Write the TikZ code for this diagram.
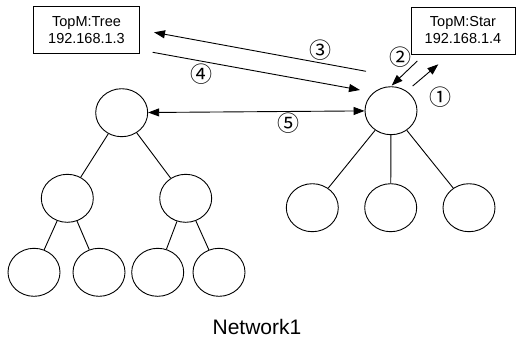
\documentclass[tikz,border=0pt]{standalone}
\usepackage{fontspec}
\setmainfont{Liberation Sans}
\newfontfamily\symfont{Noto Sans CJK JP}
\usetikzlibrary{shapes.geometric,arrows.meta}
\begin{document}
\begin{tikzpicture}[x=1pt,y=-1pt,
  host/.style={ellipse,draw,line width=0.9pt,minimum width=52pt,minimum height=48pt,inner sep=0pt},
  infobox/.style={draw,line width=0.9pt,minimum width=106pt,minimum height=47pt,inner sep=0pt,align=center,font=\fontsize{14.5}{17}\selectfont},
  edge/.style={line width=0.9pt},
  msg/.style={line width=0.9pt,-{Triangle[length=11pt,width=8pt]}},
  num/.style={font=\symfont\fontsize{22}{22}\selectfont,inner sep=0pt}]
\useasboundingbox (0,0) rectangle (516,338);
% info boxes
\node[infobox] (tbox) at (86.5,30) {TopM:Tree\\192.168.1.3};
\node[infobox,minimum width=104pt] (sbox) at (463,30.5) {TopM:Star\\192.168.1.4};
% tree network
\node[host] (troot) at (121.7,112.7) {};
\node[host] (tl) at (67.3,198.3) {};
\node[host] (tr) at (185.7,198.3) {};
\node[host] (tl1) at (34,272.3) {};
\node[host] (tl2) at (99,272.3) {};
\node[host] (tr1) at (157.7,272.3) {};
\node[host] (tr2) at (219,272.3) {};
\draw[edge] (troot) -- (tl);
\draw[edge] (troot) -- (tr);
\draw[edge] (tl) -- (tl1);
\draw[edge] (tl) -- (tl2);
\draw[edge] (tr) -- (tr1);
\draw[edge] (tr) -- (tr2);
% star network
\node[host] (sroot) at (391,110.7) {};
\node[host] (s1) at (312.3,207.7) {};
\node[host] (s2) at (390.7,207.7) {};
\node[host] (s3) at (469,207.7) {};
\draw[edge] (sroot) -- (s1);
\draw[edge] (sroot) -- (s2);
\draw[edge] (sroot) -- (s3);
% messages
\coordinate (a3s) at (366,71.3);
\coordinate (a3e) at (154,32.3);
\coordinate (a4s) at (152.7,52.3);
\coordinate (a4e) at (360,90);
\coordinate (a2s) at (417.3,61);
\coordinate (a2e) at (391.7,85.5);
\coordinate (a1s) at (412.7,86);
\coordinate (a1e) at (438.3,64.3);
\draw[msg] (a3s) -- (a3e);
\draw[msg] (a4s) -- (a4e);
\draw[msg] (a2s) -- (a2e);
\draw[msg] (a1s) -- (a1e);
\draw[msg,{Triangle[length=11pt,width=8pt]}-{Triangle[length=11pt,width=8pt]}] (troot) -- (sroot);
% labels
\node[num] (n1) at (440,97.3) {①};
\node[num] (n2) at (400,57.3) {②};
\node[num] (n3) at (320,50) {③};
\node[num] (n4) at (201,74) {④};
\node[num] (n5) at (288.3,123.3) {⑤};
\node[font=\fontsize{21}{21}\selectfont,inner sep=0pt] (title) at (257,327) {Network1};
\end{tikzpicture}
\end{document}
